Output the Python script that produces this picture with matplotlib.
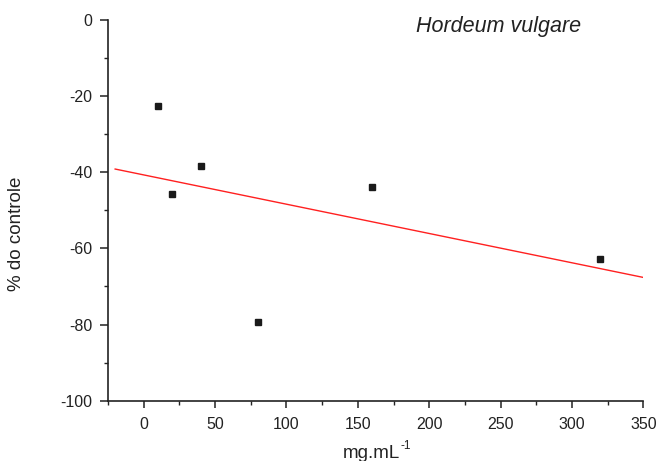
"""
Hordeum vulgare: % of control vs concentration, with linear fit.
"""

import numpy as np
import matplotlib
matplotlib.use("Agg")
import matplotlib.pyplot as plt
from matplotlib.ticker import MultipleLocator

# data
conc = [10, 20, 40, 80, 160, 320]
pct_control = [-22.6, -45.7, -38.3, -79.3, -43.9, -62.8]
fit_range = [-20, 350]

title = "Hordeum vulgare"
x_label = "mg.mL"
x_label_sup = "-1"
y_label = "% do controle"

plt.rcParams["font.family"] = ["Liberation Sans", "DejaVu Sans"]
plt.rcParams["axes.unicode_minus"] = False

W, H = 659, 461
fig = plt.figure(figsize=(W / 100, H / 100), dpi=100)
ax = fig.add_axes([0.1639, 0.1308, 0.8123, 0.8258])

# linear regression through the points
slope, intercept = np.polyfit(conc, pct_control, 1)
xf = np.array(fit_range, dtype=float)
ax.plot(xf, slope * xf + intercept, color="#ff2020", linewidth=1.0)

ax.plot(conc, pct_control, "s", color="#1a1a1a", markersize=4.6, linestyle="none")

ax.set_xlim(-25, 350)
ax.set_ylim(-100, 0)
ax.xaxis.set_major_locator(MultipleLocator(50))
ax.xaxis.set_minor_locator(MultipleLocator(25))
ax.yaxis.set_major_locator(MultipleLocator(20))
ax.yaxis.set_minor_locator(MultipleLocator(10))

for side in ("top", "right"):
    ax.spines[side].set_visible(False)
for side in ("left", "bottom"):
    ax.spines[side].set_linewidth(1.2)
    ax.spines[side].set_color("#222222")

ax.tick_params(which="major", direction="out", length=5, width=1.1,
               labelsize=11.5, colors="#222222")
ax.tick_params(axis="x", which="major", pad=7)
ax.tick_params(axis="y", which="major", length=6, pad=5)
ax.tick_params(which="minor", direction="out", length=3, width=1.0,
               colors="#222222")

# axis labels placed in figure pixels to follow the reference
xl = fig.text(371 / W, (H - 458) / H, x_label, fontsize=13.5, color="#222222",
              ha="center", va="baseline")
ax.annotate(x_label_sup, xy=(1.0, 1.0), xycoords=xl, xytext=(0.3, 3.5),
            textcoords="offset points", fontsize=8.5, color="#222222",
            ha="left", va="top")
fig.text(16.5 / W, (H - 234) / H, y_label, fontsize=13.5, color="#222222",
         rotation=90, ha="center", va="center")

ax.text(0.575, 0.982, title, transform=ax.transAxes, fontsize=15.5,
        fontstyle="italic", va="center", ha="left", color="#222222")

fig.savefig("out.png", dpi=100)
